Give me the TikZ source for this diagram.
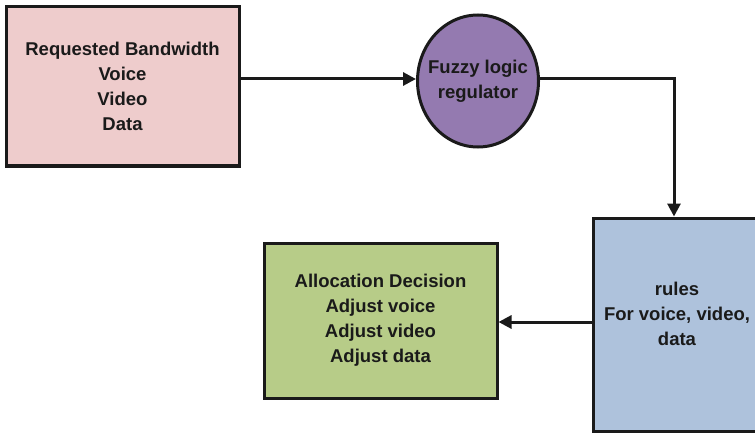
\documentclass[tikz,border=0pt]{standalone}
\usepackage{fontspec}
\setmainfont{Liberation Sans}
\usetikzlibrary{arrows.meta,shapes.geometric}
\definecolor{pinkfill}{RGB}{238,204,204}
\definecolor{purplefill}{RGB}{148,122,176}
\definecolor{bluefill}{RGB}{174,194,220}
\definecolor{greenfill}{RGB}{183,204,136}
\definecolor{ink}{RGB}{26,26,26}
\begin{document}
\begin{tikzpicture}[x=1pt,y=-1pt,
  lbl/.style={font=\fontsize{18.5}{25}\selectfont\bfseries,text=ink,align=center,inner sep=0pt},
  blk/.style={draw=ink,line width=3pt,lbl},
  conn/.style={draw=ink,line width=3pt,-{Triangle[length=13pt,width=13pt]}}]
\useasboundingbox (0,0) rectangle (755,433);
\begin{scope}
\clip (0,0) rectangle (755,433);
\node[blk,fill=pinkfill,minimum width=233pt,minimum height=159pt] (req) at (122.5,86.5)
  {Requested Bandwidth\\Voice\\Video\\Data};
\node[draw=ink,line width=3pt,fill=purplefill,ellipse,inner sep=0pt,minimum width=121pt,minimum height=132pt] (fuzzy) at (478,81) {};
\node[lbl] (fuzzytxt) at (478,81) {Fuzzy logic\\regulator};
\node[blk,fill=bluefill,minimum width=168pt,minimum height=213pt] (rules) at (677,324.5) {};
\node[lbl] (rulestxt) at (677,314) {rules\\For voice, video,\\data};
\node[blk,fill=greenfill,minimum width=233pt,minimum height=155pt] (alloc) at (380.5,320.5)
  {Allocation Decision\\Adjust voice\\Adjust video\\Adjust data};
\coordinate (corner) at (674,79);
\draw[conn] (req.east |- 0,79) -- (fuzzy.west |- 0,79);
\draw[conn] (fuzzy.east |- 0,79) -- (corner) -- (corner |- rules.north);
\draw[conn] (rules.west |- 0,322) -- (alloc.east |- 0,322);
\end{scope}
\end{tikzpicture}
\end{document}
